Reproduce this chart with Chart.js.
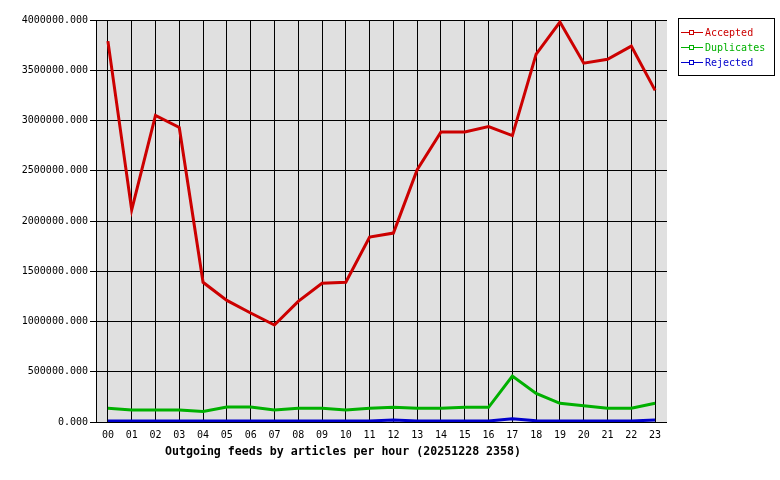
<!DOCTYPE html>
<html>
<head>
<meta charset="utf-8">
<script src="https://cdn.jsdelivr.net/npm/chart.js@4/dist/chart.umd.min.js"></script>
<style>
  html, body { margin: 0; padding: 0; background: #fff; }
  canvas { display: block; }
</style>
</head>
<body>
<canvas id="feeds-chart" width="780" height="480"></canvas>
<script>
'use strict';

const hours = ['00','01','02','03','04','05','06','07','08','09','10','11',
               '12','13','14','15','16','17','18','19','20','21','22','23'];
const accepted = [3790000, 2110000, 3050000, 2930000, 1390000, 1210000, 1085000, 965000,
                  1200000, 1380000, 1390000, 1840000, 1880000, 2510000, 2885000, 2885000,
                  2940000, 2850000, 3660000, 3980000, 3570000, 3610000, 3740000, 3300000];
const duplicates = [136000, 120000, 120000, 120000, 105000, 150000, 150000, 120000,
                    136000, 136000, 120000, 136000, 146000, 136000, 136000, 146000,
                    146000, 458000, 285000, 186000, 162000, 136000, 136000, 186000];
const rejected = [10000, 10000, 10000, 10000, 10000, 10000, 10000, 10000,
                  10000, 10000, 10000, 10000, 20000, 10000, 10000, 10000,
                  10000, 32000, 12000, 10000, 10000, 10000, 10000, 20000];
const seriesColors = ['#cc0000', '#00b000', '#0000cc'];
const caption = 'Outgoing feeds by articles per hour (20251228 2358)';

const MONO = '"DejaVu Sans Mono", "Liberation Mono", monospace';

// grey plot background, custom boxed legend and caption under the axis
const decorPlugin = {
  id: 'decor',
  beforeDraw(chart) {
    const { ctx, chartArea: a } = chart;
    ctx.save();
    ctx.fillStyle = '#e0e0e0';
    ctx.fillRect(a.left, a.top, a.right - a.left, a.bottom - a.top);
    ctx.restore();
  },
  afterDraw(chart) {
    const ctx = chart.ctx;
    ctx.save();
    // legend box
    ctx.strokeStyle = '#000';
    ctx.lineWidth = 1;
    ctx.strokeRect(678.5, 18.5, 96, 57);
    ctx.font = '10px ' + MONO;
    ctx.textBaseline = 'middle';
    ctx.textAlign = 'left';
    chart.data.datasets.forEach((ds, i) => {
      const y = 32 + i * 15;
      const c = seriesColors[i];
      ctx.fillStyle = c;
      ctx.fillRect(681, y, 22, 1);
      ctx.fillRect(689, y - 2, 5, 5);
      ctx.fillStyle = '#fff';
      ctx.fillRect(690, y - 1, 3, 3);
      ctx.fillStyle = c;
      ctx.fillText(ds.label, 705, y + 1);
    });
    // caption
    ctx.fillStyle = '#000';
    ctx.font = 'bold 11.6px ' + MONO;
    ctx.textAlign = 'center';
    ctx.fillText(caption, 343, 452);
    ctx.restore();
  }
};

function makeSet(label, data, color) {
  return {
    label, data,
    borderColor: color,
    backgroundColor: color,
    borderWidth: 3,
    pointRadius: 0,
    tension: 0,
    fill: false
  };
}

new Chart(document.getElementById('feeds-chart'), {
  type: 'line',
  data: {
    labels: hours,
    datasets: [
      makeSet('Accepted', accepted, seriesColors[0]),
      makeSet('Duplicates', duplicates, seriesColors[1]),
      makeSet('Rejected', rejected, seriesColors[2])
    ]
  },
  options: {
    responsive: false,
    animation: false,
    layout: { padding: { left: 0, right: 113, top: 20, bottom: 0 } },
    plugins: {
      legend: { display: false },
      tooltip: { enabled: false }
    },
    scales: {
      x: {
        offset: true,
        grid: { offset: false, color: '#000', lineWidth: 1, drawTicks: false },
        border: { display: false },
        ticks: { color: '#000', font: { family: MONO, size: 10 }, padding: 7, maxRotation: 0, autoSkip: false },
        afterFit: (s) => { s.height = 58; }
      },
      y: {
        min: 0,
        max: 4000000,
        grid: { color: '#000', lineWidth: 1, tickLength: 6 },
        border: { color: '#000' },
        ticks: {
          stepSize: 500000,
          color: '#000',
          font: { family: MONO, size: 10 },
          padding: 2,
          callback: (v) => Number(v).toFixed(3)
        },
        afterFit: (s) => { s.width = 96; }
      }
    }
  },
  plugins: [decorPlugin]
});
</script>
</body>
</html>
